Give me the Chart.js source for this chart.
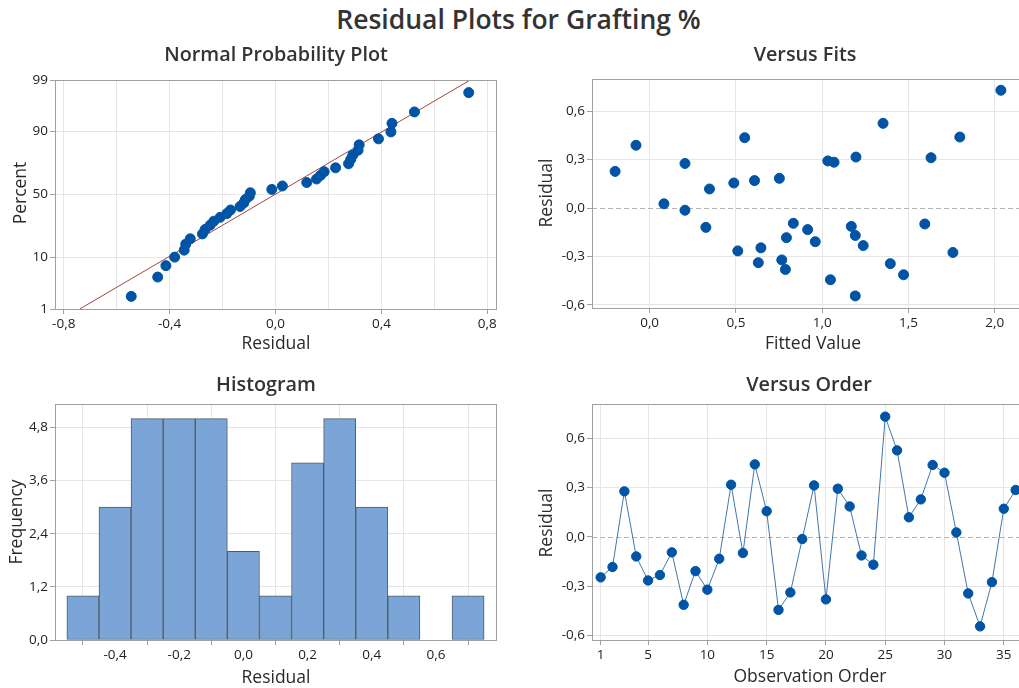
<!DOCTYPE html>
<html>
<head>
<meta charset="utf-8">
<script src="https://cdn.jsdelivr.net/npm/chart.js"></script>
<style>
  html, body { margin: 0; padding: 0; background: #fff; overflow: hidden; width: 1019px; height: 688px; }
  #main { position: absolute; left: 9px; top: 1px; width: 1019px; text-align: center;
          font-family: "Open Sans", sans-serif; font-weight: 600; font-size: 26.5px; color: #333; }
  canvas { position: absolute; }
</style>
</head>
<body>
<div id="main">Residual Plots for Grafting %</div>
<canvas id="npp" width="510" height="320" style="left:0;top:40px"></canvas>
<canvas id="fits" width="520" height="320" style="left:510px;top:40px"></canvas>
<canvas id="hist" width="510" height="328" style="left:0;top:360px"></canvas>
<canvas id="order" width="520" height="328" style="left:510px;top:360px"></canvas>
<script>
// residuals in observation order
const residuals = [-0.247, -0.184, 0.276, -0.120, -0.266, -0.233, -0.095, -0.414, -0.209, -0.322,
  -0.134, 0.316, -0.099, 0.440, 0.155, -0.445, -0.339, -0.014, 0.312, -0.381,
  0.292, 0.184, -0.114, -0.170, 0.730, 0.525, 0.118, 0.227, 0.436, 0.389,
  0.026, -0.345, -0.545, -0.276, 0.170, 0.284];
// fitted values, same order
const fits = [0.645, 0.793, 0.205, 0.326, 0.511, 1.238, 0.833, 1.472, 0.960, 0.766,
  0.916, 1.196, 1.595, 1.798, 0.488, 1.048, 0.630, 0.205, 1.631, 0.787,
  1.033, 0.752, 1.169, 1.192, 2.036, 1.353, 0.347, -0.200, 0.551, -0.079,
  0.083, 1.395, 1.192, 1.758, 0.608, 1.069];
const histCenters = [-0.5, -0.4, -0.3, -0.2, -0.1, 0.0, 0.1, 0.2, 0.3, 0.4, 0.5, 0.6, 0.7];
const histCounts = [1, 3, 5, 5, 5, 2, 1, 4, 5, 3, 1, 0, 1];
const nppXTicks = [-0.8, -0.6, -0.4, -0.2, 0, 0.2, 0.4, 0.6, 0.8];
const nppPctTicks = [1, 10, 50, 90, 99];
const fitsXTicks = [0, 0.5, 1.0, 1.5, 2.0];
const residTicks = [-0.6, -0.3, 0, 0.3, 0.6];
const histXTicks = [-0.4, -0.2, 0, 0.2, 0.4, 0.6];
const histYTicks = [0, 1.2, 2.4, 3.6, 4.8];
const orderTicks = [1, 5, 10, 15, 20, 25, 30, 35];

const FONT = '"Open Sans", sans-serif';
const DOT = '#0054A6';
const GRID = '#e6e6e6';
const TXT = '#222';

// inverse normal cdf (Acklam)
function qnorm(p) {
  const a = [-3.969683028665376e+01, 2.209460984245205e+02, -2.759285104469687e+02, 1.383577518672690e+02, -3.066479806614716e+01, 2.506628277459239e+00];
  const b = [-5.447609879822406e+01, 1.615858368580409e+02, -1.556989798598866e+02, 6.680131188771972e+01, -1.328068155288572e+01];
  const c = [-7.784894002430293e-03, -3.223964580411365e-01, -2.400758277161838e+00, -2.549732539343734e+00, 4.374664141464968e+00, 2.938163982698783e+00];
  const d = [7.784695709041462e-03, 3.224671290700398e-01, 2.445134137142996e+00, 3.754408661907416e+00];
  const pl = 0.02425;
  let q, r;
  if (p < pl) {
    q = Math.sqrt(-2 * Math.log(p));
    return (((((c[0]*q+c[1])*q+c[2])*q+c[3])*q+c[4])*q+c[5]) / ((((d[0]*q+d[1])*q+d[2])*q+d[3])*q+1);
  }
  if (p <= 1 - pl) {
    q = p - 0.5; r = q * q;
    return (((((a[0]*r+a[1])*r+a[2])*r+a[3])*r+a[4])*r+a[5])*q / (((((b[0]*r+b[1])*r+b[2])*r+b[3])*r+b[4])*r+1);
  }
  q = Math.sqrt(-2 * Math.log(1 - p));
  return -(((((c[0]*q+c[1])*q+c[2])*q+c[3])*q+c[4])*q+c[5]) / ((((d[0]*q+d[1])*q+d[2])*q+d[3])*q+1);
}

const comma = v => (Math.round(v * 10) / 10).toFixed(1).replace('.', ',');

// normal plot positions
const n = residuals.length;
const sorted = residuals.slice().sort((a, b) => a - b);
const nppPoints = sorted.map((r, i) => ({ x: r, y: qnorm((i + 1 - 0.3) / (n + 0.4)) }));
const mean = residuals.reduce((s, v) => s + v, 0) / n;
const sd = Math.sqrt(residuals.reduce((s, v) => s + (v - mean) ** 2, 0) / (n - 1));
const zTop = qnorm(0.99);
const fitLine = [{ x: mean - sd * zTop, y: -zTop }, { x: mean + sd * zTop, y: zTop }];

// titles, frame, zero line
const deco = {
  id: 'deco',
  beforeDatasetsDraw(chart, args, o) {
    if (!o.zero) return;
    const ctx = chart.ctx, a = chart.chartArea;
    const y = Math.round(chart.scales.y.getPixelForValue(0)) + 0.5;
    ctx.save();
    ctx.strokeStyle = '#b4b4b4'; ctx.lineWidth = 1; ctx.setLineDash([5, 3]);
    ctx.beginPath(); ctx.moveTo(a.left, y); ctx.lineTo(a.right, y); ctx.stroke();
    ctx.restore();
  },
  afterDraw(chart, args, o) {
    const ctx = chart.ctx, a = chart.chartArea;
    ctx.save();
    ctx.strokeStyle = '#a0a0a0'; ctx.lineWidth = 1;
    ctx.strokeRect(Math.round(a.left) + 0.5, Math.round(a.top) + 0.5, Math.round(a.right - a.left), Math.round(a.bottom - a.top));
    ctx.fillStyle = '#333'; ctx.textAlign = 'center'; ctx.textBaseline = 'middle';
    ctx.font = '600 19.8px ' + FONT;
    ctx.fillText(o.title[0], o.title[1], o.title[2]);
    ctx.fillStyle = '#2a2a2a';
    ctx.font = '17.5px ' + FONT;
    ctx.fillText(o.xt[0], o.xt[1], o.xt[2]);
    ctx.translate(o.yt[1], o.yt[2]); ctx.rotate(-Math.PI / 2);
    ctx.fillText(o.yt[0], 0, 0);
    ctx.restore();
  }
};

function axis(min, max, ticks, fmt, size, extra) {
  return Object.assign({
    type: 'linear', min: min, max: max, offset: false,
    border: { display: false },
    grid: { color: GRID, tickColor: '#a0a0a0', tickLength: 5 },
    ticks: { color: TXT, font: { family: FONT, size: 13.5 }, padding: 2, autoSkip: false, maxRotation: 0, callback: fmt },
    afterBuildTicks: s => { s.ticks = ticks.map(v => ({ value: v })); },
    afterFit: s => { if (s.isHorizontal()) s.height = size; else s.width = size; }
  }, extra || {});
}

function base(type, datasets, scales, decoOpts, pad) {
  return {
    type: type,
    data: { datasets: datasets },
    options: {
      responsive: false, animation: false,
      layout: { padding: pad },
      plugins: { legend: { display: false }, tooltip: { enabled: false }, deco: decoOpts },
      scales: scales
    },
    plugins: [deco]
  };
}

// Normal probability plot
new Chart(document.getElementById('npp'), base('scatter', [
  { data: nppPoints, backgroundColor: DOT, borderColor: DOT, pointRadius: 5 },
  { data: fitLine, showLine: true, borderColor: '#a5443e', borderWidth: 1, pointRadius: 0 }
], {
  x: axis(-0.833, 0.833, nppXTicks, v => Math.abs(Math.round(v * 10)) % 4 === 0 ? comma(v) : '', 51, {
    grid: { color: GRID, tickLength: 5, tickColor: c => Math.abs(Math.round(c.tick.value * 10)) % 4 === 0 ? '#a0a0a0' : 'transparent' }
  }),
  y: axis(-zTop, zTop, nppPctTicks.map(p => qnorm(p / 100)), (v, i) => String(nppPctTicks[i]), 55)
}, { title: ['Normal Probability Plot', 276, 15], xt: ['Residual', 276, 304], yt: ['Percent', 21, 153] },
{ left: 0, top: 40, right: 14, bottom: 0 }));

// Versus fits
new Chart(document.getElementById('fits'), base('scatter', [
  { data: fits.map((f, i) => ({ x: f, y: residuals[i] })), backgroundColor: DOT, borderColor: DOT, pointRadius: 5 }
], {
  x: axis(-0.334, 2.17, fitsXTicks, v => comma(v), 52),
  y: axis(-0.62, 0.80, residTicks, v => comma(v), 82, {
    grid: { color: c => c.tick.value === 0 ? 'transparent' : GRID, tickColor: '#a0a0a0', tickLength: 5 }
  })
}, { title: ['Versus Fits', 295, 15], xt: ['Fitted Value', 303, 304], yt: ['Residual', 37, 153], zero: true },
{ left: 0, top: 39, right: 3, bottom: 0 }));

// Histogram
new Chart(document.getElementById('hist'), base('bar', [
  { data: histCenters.map((c, i) => ({ x: c, y: histCounts[i] })), backgroundColor: '#7ba5d7', borderColor: '#505c68',
    borderWidth: 1, barPercentage: 1, categoryPercentage: 1, borderSkipped: false }
], {
  x: axis(-0.587, 0.787, histXTicks, v => comma(v), 48),
  y: axis(0, 5.33, histYTicks, v => comma(v), 55)
}, { title: ['Histogram', 266, 25], xt: ['Residual', 276, 318], yt: ['Frequency', 17, 162] },
{ left: 0, top: 44, right: 14, bottom: 0 }));

// Versus order
new Chart(document.getElementById('order'), base('line', [
  { data: residuals.map((r, i) => ({ x: i + 1, y: r })), borderColor: '#3f77ad', borderWidth: 1,
    pointBackgroundColor: DOT, pointBorderColor: DOT, pointRadius: 4.7, tension: 0 }
], {
  x: axis(0.27, 36.73, orderTicks, v => String(v), 48),
  y: axis(-0.628, 0.807, residTicks, v => comma(v), 82, {
    grid: { color: c => c.tick.value === 0 ? 'transparent' : GRID, tickColor: '#a0a0a0', tickLength: 5 }
  })
}, { title: ['Versus Order', 299, 25], xt: ['Observation Order', 300, 317], yt: ['Residual', 37, 163], zero: true },
{ left: 0, top: 44, right: 3, bottom: 0 }));
</script>
</body>
</html>
